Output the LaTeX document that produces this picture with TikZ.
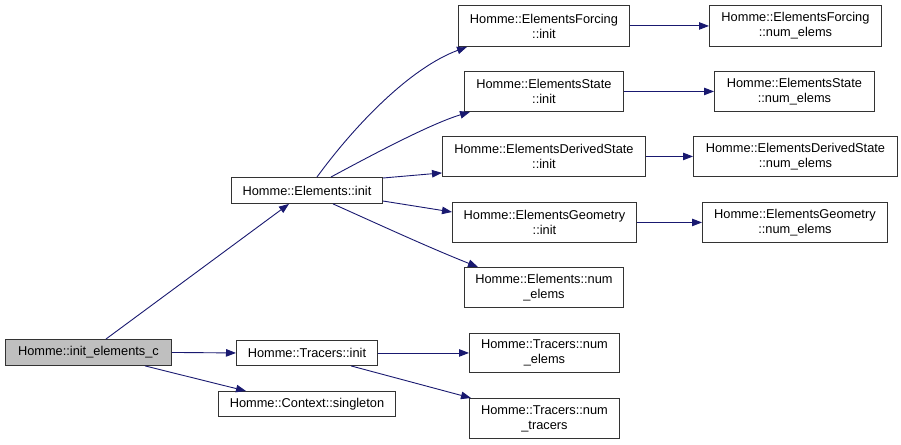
\documentclass[tikz,border=0pt]{standalone}
\usepackage{fontspec}
\setmainfont{Liberation Sans}
\usetikzlibrary{arrows.meta,calc}
\definecolor{edgeblue}{RGB}{25,25,112}
\definecolor{boxgray}{RGB}{191,191,191}
\tikzset{
  box/.style={draw=black!80, line width=0.9pt, fill=white, anchor=north west, inner sep=0pt,
    align=center, font=\fontsize{12.8}{15}\selectfont},
  call/.style={draw=edgeblue, line width=0.9pt, -{Triangle[length=10pt,width=7.5pt]}},
}
\begin{document}
\begin{tikzpicture}[x=1pt,y=-1pt]
\useasboundingbox (0,0) rectangle (901,444);
% nodes
\node[box, fill=boxgray, minimum width=166pt, minimum height=26pt] (iec) at (5,339) {Homme::init\_elements\_c};
\node[box, minimum width=151pt, minimum height=26pt] (elinit) at (231,177) {Homme::Elements::init};
\node[box, minimum width=141pt, minimum height=25pt] (trinit) at (236,340) {Homme::Tracers::init};
\node[box, minimum width=177pt, minimum height=25pt] (ctx) at (218,391) {Homme::Context::singleton};
\node[box, minimum width=171pt, minimum height=41pt] (efi) at (458,5) {Homme::ElementsForcing\\::init};
\node[box, minimum width=172pt, minimum height=41pt] (efn) at (709,5) {Homme::ElementsForcing\\::num\_elems};
\node[box, minimum width=159pt, minimum height=40pt] (esi) at (464,71) {Homme::ElementsState\\::init};
\node[box, minimum width=160pt, minimum height=40pt] (esn) at (714,71) {Homme::ElementsState\\::num\_elems};
\node[box, minimum width=203pt, minimum height=40pt] (edi) at (442,136) {Homme::ElementsDerivedState\\::init};
\node[box, minimum width=204pt, minimum height=40pt] (edn) at (693,136) {Homme::ElementsDerivedState\\::num\_elems};
\node[box, minimum width=184pt, minimum height=40pt] (egi) at (452,202) {Homme::ElementsGeometry\\::init};
\node[box, minimum width=185pt, minimum height=40pt] (egn) at (702,202) {Homme::ElementsGeometry\\::num\_elems};
\node[box, minimum width=159pt, minimum height=40pt] (eln) at (464,267) {Homme::Elements::num\\\_elems};
\node[box, minimum width=150pt, minimum height=39pt] (trn) at (469,333) {Homme::Tracers::num\\\_elems};
\node[box, minimum width=150pt, minimum height=40pt] (trt) at (469,398) {Homme::Tracers::num\\\_tracers};
% edges
\draw[call] ($(iec.north west)+(101,0)$) -- ($(elinit.south west)+(58,0)$);
\draw[call] (iec.east) -- (trinit.west);
\draw[call] ($(iec.south west)+(140,0)$) -- ($(ctx.north west)+(28,0)$);
\draw[call] ($(elinit.north west)+(86,0)$) .. controls (355,125) and (410,68) .. ($(efi.south west)+(9,0)$);
\draw[call] ($(elinit.north west)+(100,0)$) .. controls (370,156) and (430,124) .. ($(esi.south west)+(6,0)$);
\draw[call] ($(elinit.north east)+(0,1)$) -- ($(edi.south west)+(0,-4)$);
\draw[call] ($(elinit.north east)+(0,24)$) -- ($(egi.north west)+(0,10)$);
\draw[call] ($(elinit.south west)+(102,0)$) .. controls (380,225) and (430,248) .. ($(eln.north west)+(14,0)$);
\draw[call] (efi.east) -- (efn.west);
\draw[call] (esi.east) -- (esn.west);
\draw[call] (edi.east) -- (edn.west);
\draw[call] (egi.east) -- (egn.west);
\draw[call] (trinit.east) -- (trn.west);
\draw[call] ($(trinit.south west)+(115,0)$) -- ($(trt.north west)+(2,0)$);
\end{tikzpicture}
\end{document}
